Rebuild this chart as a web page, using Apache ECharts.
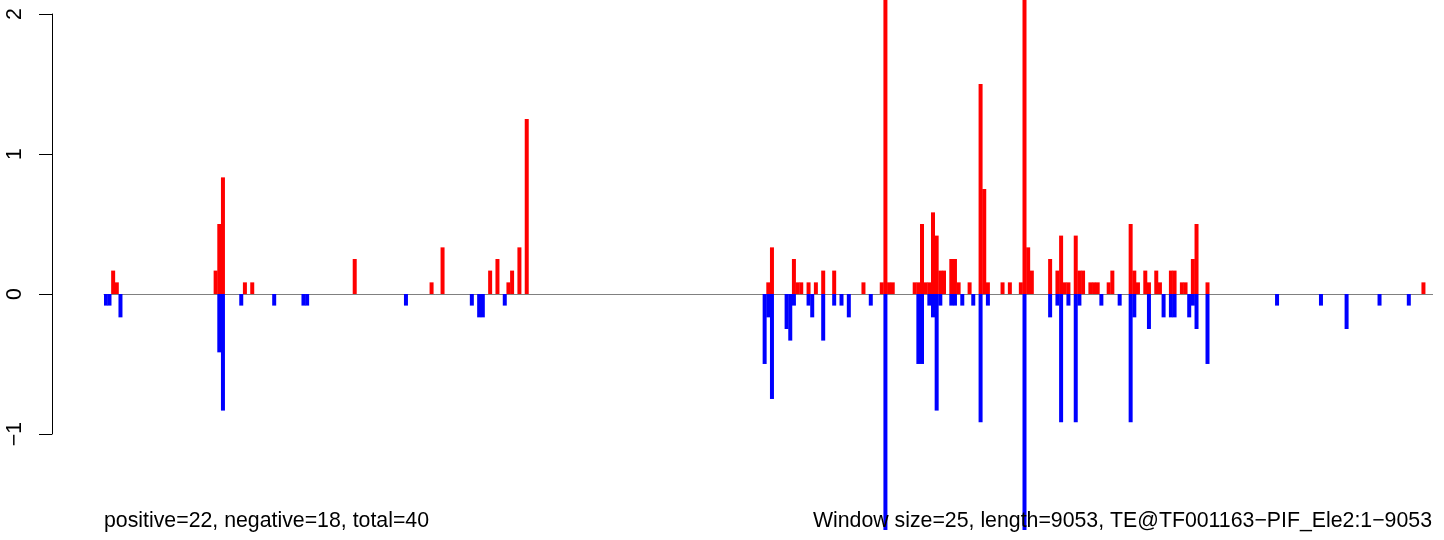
<!DOCTYPE html>
<html><head><meta charset="utf-8">
<script src="https://cdn.jsdelivr.net/npm/echarts@6/dist/echarts.min.js"></script>
<style>html,body{margin:0;padding:0;background:#fff}#c{width:1444px;height:540px}</style>
</head><body><div id="c"></div>
<script>
// ---- data ----
const windowSize = 25;
const seqLength = 9053;
const posWindows = [2,3,30,31,32,38,40,68,89,92,105,107,110,111,113,115,181,182,188,189,190,192,194,196,199,207,212,213,214,215,221,222,223,224,225,226,227,228,229,231,232,233,236,239,240,241,245,247,250,251,252,253,258,260,261,262,263,265,266,267,269,270,271,274,275,280,281,282,284,285,287,288,291,292,294,295,297,298,301,360];
const posValues = [0.167,0.083,0.167,0.5,0.833,0.083,0.083,0.25,0.083,0.333,0.167,0.25,0.083,0.167,0.333,1.25,0.083,0.333,0.25,0.083,0.083,0.083,0.083,0.167,0.167,0.083,0.083,2.5,0.083,0.083,0.083,0.083,0.5,0.083,0.083,0.583,0.417,0.167,0.167,0.25,0.25,0.083,0.083,1.5,0.75,0.083,0.083,0.083,0.083,2.5,0.333,0.167,0.25,0.167,0.417,0.083,0.083,0.417,0.167,0.167,0.083,0.083,0.083,0.083,0.167,0.5,0.167,0.083,0.167,0.083,0.167,0.083,0.167,0.167,0.083,0.083,0.25,0.5,0.083,0.083];
const negWindows = [0,1,4,31,32,37,46,54,55,82,100,102,103,109,180,181,182,186,187,188,192,193,196,199,201,203,209,213,222,223,225,226,227,228,231,232,234,237,239,241,251,258,260,261,263,265,266,272,277,280,281,285,289,291,292,296,297,298,301,320,332,339,348,356];
const negValues = [-0.083,-0.083,-0.167,-0.417,-0.833,-0.083,-0.083,-0.083,-0.083,-0.083,-0.083,-0.167,-0.167,-0.083,-0.5,-0.167,-0.75,-0.25,-0.333,-0.083,-0.083,-0.167,-0.333,-0.083,-0.083,-0.167,-0.083,-1.8,-0.5,-0.5,-0.083,-0.167,-0.833,-0.083,-0.083,-0.083,-0.083,-0.083,-0.917,-0.083,-1.8,-0.167,-0.083,-0.917,-0.083,-0.917,-0.083,-0.083,-0.083,-0.917,-0.167,-0.25,-0.167,-0.167,-0.167,-0.167,-0.083,-0.25,-0.5,-0.083,-0.083,-0.25,-0.083,-0.083];
const yTicks = [-1, 0, 1, 2];
const leftNote = 'positive=22, negative=18, total=40';
const rightNote = 'Window size=25, length=9053, TE@TF001163\u2212PIF_Ele2:1\u22129053';

// ---- build ----
const nWindows = Math.ceil(seqLength / windowSize);
const cats = Array.from({length: nWindows}, (_, i) => i);
const pos = new Array(nWindows).fill(null);
posWindows.forEach((w, i) => { pos[w] = posValues[i]; });
const neg = new Array(nWindows).fill(null);
negWindows.forEach((w, i) => { neg[w] = negValues[i]; });

const FONT = 'Liberation Sans, Arial, Helvetica, sans-serif';
const chart = echarts.init(document.getElementById('c'), null, {renderer: 'canvas'});
chart.setOption({
  animation: false,
  backgroundColor: '#ffffff',
  title: [
    {text: leftNote, left: 104, top: 511, padding: 0,
     textStyle: {fontSize: 21.3, fontWeight: 'normal', color: '#000', fontFamily: FONT}},
    {text: rightNote, right: 12, top: 511, padding: 0,
     textStyle: {fontSize: 21.3, fontWeight: 'normal', color: '#000', fontFamily: FONT}}
  ],
  grid: [
    {left: 104, top: 0, width: 1328.6, height: 530, outerBoundsMode: 'none'},
    {left: 52, top: 14, width: 1, height: 420, outerBoundsMode: 'none'}
  ],
  xAxis: [
    {type: 'category', gridIndex: 0, data: cats, boundaryGap: true,
     axisLine: {show: true, onZero: true, lineStyle: {color: '#808080', width: 1}},
     axisTick: {show: false}, axisLabel: {show: false}, splitLine: {show: false}},
    {type: 'value', gridIndex: 1, show: false}
  ],
  yAxis: [
    {type: 'value', gridIndex: 0, min: -1.686, max: 2.1, show: false, splitLine: {show: false}},
    {type: 'value', gridIndex: 1, min: yTicks[0], max: yTicks[yTicks.length - 1], interval: 1,
     axisLine: {show: true, lineStyle: {color: '#000', width: 1}},
     axisTick: {show: true, length: 13, lineStyle: {color: '#000', width: 1}},
     axisLabel: {rotate: 90, margin: 26, fontSize: 21.3, color: '#000', fontFamily: FONT,
                 formatter: v => (v < 0 ? '\u2212' + Math.abs(v) : String(v))},
     splitLine: {show: false}}
  ],
  series: [
    {name: 'positive', type: 'bar', xAxisIndex: 0, yAxisIndex: 0, data: pos,
     barWidth: 4, barGap: '-100%', clip: true, silent: true,
     itemStyle: {color: '#ff0000'}},
    {name: 'negative', type: 'bar', xAxisIndex: 0, yAxisIndex: 0, data: neg,
     barWidth: 4, barGap: '-100%', clip: true, silent: true,
     itemStyle: {color: '#0000ff'}}
  ]
});
</script>
</body></html>
